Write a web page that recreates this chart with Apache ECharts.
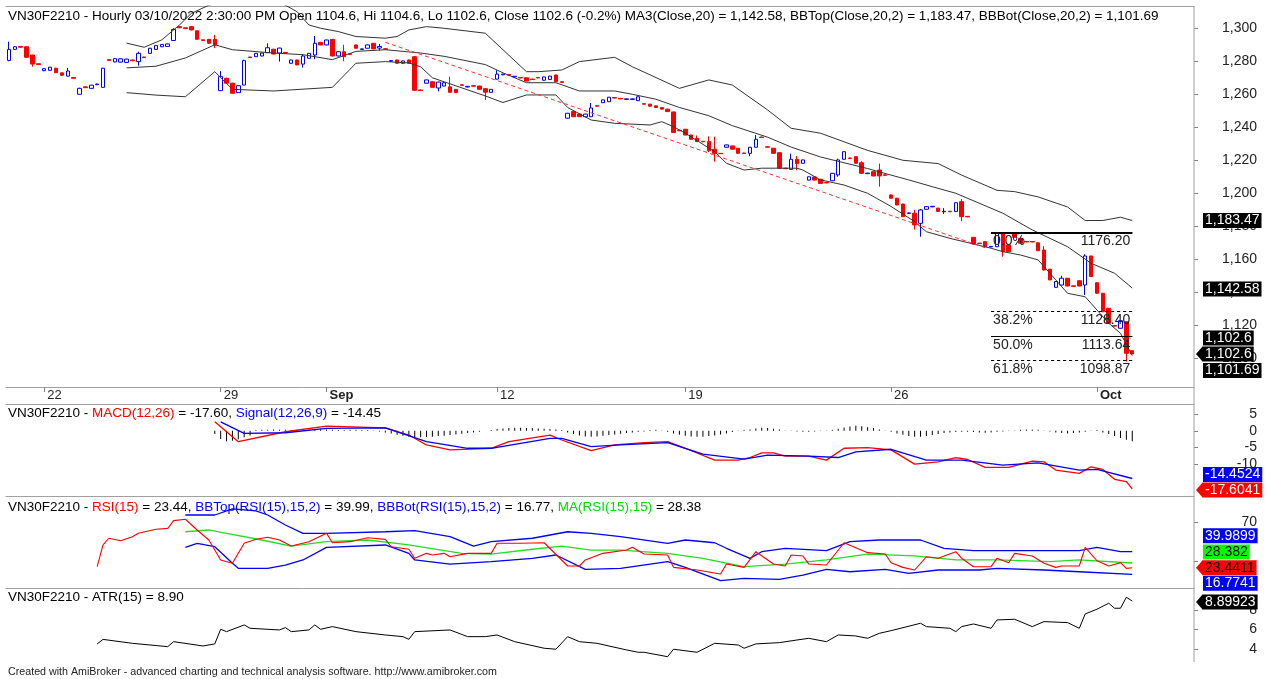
<!DOCTYPE html>
<html>
<head>
<meta charset="utf-8">
<title>VN30F2210 Hourly</title>
<script src="https://cdn.jsdelivr.net/npm/echarts@6/dist/echarts.min.js"></script>
<style>
  html, body { margin: 0; padding: 0; background: #fff; }
  #chart { width: 1270px; height: 679px; }
</style>
</head>
<body>
<div id="chart"></div>
<script>
// hourly bars, index 0 = first bar on the left, 191 = 03/10/2022 2:30 PM
var barCount = 202; // includes the empty space on the right
var dayStarts = [6, 36, 54, 83, 115, 150, 185];
var dayLabels = ['22', '29', 'Sep', '12', '19', '26', 'Oct'];

var opens = [
  1280.5,1287.2,1289,1288.8,1283.8,1278.5,1274.3,1274.5,1275.8,1273,
  1271,1270.2,1260,1264.5,1263.6,1265.8,1264.2,1281,1279.6,1279.5,
  1279.3,1280.8,1279.8,1282.6,1284.8,1287.2,1288.8,1289,1292.6,1301,
  1300.3,1301,1298.5,1293,1293.3,1293.3,1262.2,1269.7,1266.7,1261,
  1265.6,1282.6,1282.8,1283.2,1285.2,1287.3,1285,1285.4,1278.8,1280.8,
  1278.3,1281.8,1283.8,1291.5,1289.9,1293.3,1283.2,1285.8,1284.5,1289.9,
  1287.2,1287.9,1290.9,1288,1287.6,1280,1280.8,1278.8,1280.8,1282.8,
  1262.6,1266.7,1267.6,1263.8,1265,1264.5,1263,1265.8,1264.4,1265.2,
  1265,1263.4,1261.2,1269.2,1271.8,1271.9,1270.5,1270.2,1270,1269.2,
  1270.2,1268.5,1269,1271.7,1267.6,1245.5,1249.5,1248,1246.4,1246.4,
  1253.1,1254.9,1255.5,1258,1257.5,1256.9,1256.9,1256.1,1254.3,1254,
  1253,1252,1251,1249.3,1238.2,1238.8,1235.3,1233.3,1231.5,1231.3,
  1226.7,1224.2,1227.9,1228.7,1227.3,1224.4,1224.2,1227.9,1234.1,1228.2,
  1227.3,1224.6,1215.2,1214.5,1220.6,1218.2,1208,1209.9,1208.5,1206.6,
  1207.6,1211.1,1220.6,1221.4,1222.2,1218.5,1211.9,1213.1,1214.1,1211.2,
  1199,1197,1193.5,1187.8,1187.9,1181.8,1190.3,1191.8,1191,1188.8,
  1189.1,1189,1194.9,1186,1173.3,1169.8,1170.7,1167.5,1167.6,1175.8,
  1168.7,1175.8,1172.7,1170.8,1170.8,1170,1165.6,1154,1143,1144.4,
  1148.5,1143.9,1147,1144.4,1162,1145.8,1139.4,1130.3,1119.8,1118.2,
  1122.2,1104.6
];
var closes = [
  1287.2,1288.8,1288.5,1282.4,1278.3,1278,1275.5,1276.4,1273.1,1271.5,
  1274.1,1269.7,1263.6,1264,1265.5,1266.2,1275.8,1280.5,1281.6,1281.5,
  1281.3,1280.3,1284.8,1282.2,1287.9,1289.5,1290.2,1290.5,1299.3,1300.3,
  1299.8,1299,1293.3,1292.6,1290.9,1289.9,1270.7,1266.7,1260.6,1265.2,
  1280.4,1282.2,1284.8,1285,1288.2,1284.4,1288,1285,1280.8,1277.8,
  1283.2,1284.8,1290.9,1289.9,1292.9,1283.2,1285.8,1282.8,1284.2,1287.9,
  1287.5,1289.9,1287.5,1289,1287.3,1280.4,1278.8,1280.2,1278.8,1262.4,
  1262.3,1268.7,1264.2,1267.4,1267,1261.2,1261,1265.4,1264.8,1264.9,
  1263,1261.3,1263,1272.2,1272.2,1271.6,1270.9,1269.9,1268,1268.9,
  1269.9,1270.5,1271,1267.6,1267.2,1248.5,1246.4,1246.4,1248,1251.7,
  1252.8,1256.6,1258.2,1257.7,1257.2,1257.2,1257.2,1258.5,1254,1252.8,
  1252,1251,1249.5,1236.8,1237.9,1235.3,1232.7,1231.3,1231.2,1225.8,
  1224.2,1224,1229.3,1226.7,1224.2,1224.1,1227.9,1232.7,1233.8,1227.9,
  1224.2,1215.2,1214.9,1220.6,1218,1220.2,1210,1208,1206,1206.3,
  1212.1,1220.2,1225.2,1221.1,1218.2,1212.1,1212.2,1210.5,1210.5,1210.9,
  1197,1192.9,1185.8,1188.1,1180.8,1189.9,1191.9,1192.1,1189,1189.1,
  1188.8,1194.3,1185.8,1185.7,1169.3,1169.5,1167.6,1167.8,1176.1,1164.6,
  1164.6,1173.3,1169.7,1170.5,1170.5,1165.2,1153.5,1147.5,1146.5,1148.5,
  1143.8,1143.6,1143.8,1162,1149.5,1139.4,1128.2,1121.2,1119.5,1122.8,
  1103,1102.6
];
var lows = [
  1280,1287,1288.3,1282,1276.7,1277.8,1274,1274.3,1272.8,1271.2,
  1270.8,1269.5,1259.8,1263.8,1263.4,1265.6,1264,1280.3,1279.4,1279.3,
  1279,1280.1,1277.3,1282,1284.6,1287,1288.6,1288.8,1292.4,1300,
  1299.6,1298.8,1293,1292.4,1290.7,1288,1262,1266.5,1260.4,1260.8,
  1265.4,1282,1282.6,1283,1285,1284.2,1279.8,1284.8,1278.6,1277.6,
  1276.2,1281.6,1281.3,1289.7,1289.7,1283,1283,1280,1284,1287.7,
  1287,1287.7,1287.3,1286.5,1287,1279.8,1278.6,1278.6,1278.6,1262,
  1262.1,1266.5,1264,1261.8,1264.8,1261,1260.8,1265.2,1264.2,1264.7,
  1262.8,1256.5,1261,1269,1271.6,1271.4,1270.3,1269.7,1267.8,1268.7,
  1269.7,1268.3,1268.8,1267.4,1267,1245.3,1246.2,1246.2,1246.2,1246.2,
  1252.6,1254.7,1255.3,1257.5,1257,1256.7,1256.7,1255.9,1253.8,1252.6,
  1251.8,1250.8,1249.3,1236.6,1237.7,1235.1,1232.5,1231.1,1231,1225,
  1219.2,1223.8,1227.7,1226.5,1224,1223.9,1222.5,1227.7,1233.6,1227.7,
  1224,1215,1214.7,1214.3,1214,1218,1207.8,1207.8,1205.8,1206.1,
  1207.4,1210,1220.4,1220.9,1218,1211.9,1211.7,1210.3,1204,1210.7,
  1196.8,1192.7,1185.6,1187.6,1178,1173.7,1190.1,1191.6,1188.8,1187.5,
  1188.6,1188.8,1183,1185.5,1169.1,1169.3,1167.4,1167.3,1167.4,1161.6,
  1164.4,1173.1,1169.5,1170.3,1170.3,1165,1153.3,1147.3,1142.8,1144.2,
  1143.6,1143.4,1143.6,1138.3,1149.3,1139.2,1128,1121,1119.3,1118,
  1098,1102.6
];
var highs = [
  1291.9,1289.2,1289.2,1289,1284,1278.7,1275.8,1276.6,1276,1273.2,
  1276,1270.4,1264,1264.7,1265.7,1266.4,1276,1281.2,1281.8,1281.7,
  1281.5,1281,1285.8,1282.8,1288.1,1289.7,1290.4,1290.7,1300,1301.2,
  1300.5,1301.2,1298.7,1293.2,1293.5,1296,1274,1270,1267,1265.4,
  1281,1282.8,1285,1285.2,1290.9,1287.5,1288.2,1285.6,1281,1281,
  1284,1285,1295.3,1291.7,1293.1,1293.5,1286,1290,1284.7,1290.1,
  1287.7,1290.1,1291.1,1290.5,1287.8,1280.6,1281,1280.4,1281,1283,
  1262.8,1268.9,1267.8,1267.6,1267.2,1270.7,1263.2,1266,1265,1265.4,
  1265.2,1263.6,1263.2,1274.5,1272.4,1272.1,1271.1,1270.4,1270.2,1269.4,
  1270.4,1270.7,1271.2,1271.9,1267.8,1248.7,1249.7,1248.2,1248.2,1254.7,
  1253.3,1256.8,1258.4,1258.2,1257.7,1257.4,1257.4,1258.7,1254.5,1254.2,
  1253.2,1252.2,1251.2,1249.5,1238.4,1239,1235.5,1235,1231.7,1234.5,
  1234.3,1224.4,1229.5,1228.9,1227.5,1224.6,1228.1,1235.3,1234.3,1228.4,
  1227.5,1224.8,1215.4,1224,1222.5,1220.4,1210.2,1210.1,1208.7,1206.8,
  1212.3,1221,1225.4,1221.6,1222.4,1219.5,1212.4,1213.3,1218,1211.4,
  1199.2,1197.2,1193.7,1188.3,1190,1190.5,1192.1,1192.3,1191.2,1191,
  1189.3,1194.5,1196.5,1186.2,1173.5,1170,1170.9,1168,1176.3,1176,
  1168.9,1176,1172.9,1171,1171,1170.2,1168,1154.2,1146.7,1150,
  1148.7,1144.1,1147.2,1163,1162.2,1146,1139.6,1130.5,1120,1123,
  1122.4,1104.6
];

// Bollinger bands as [bar, value]
var bbTop = [[20,1291],[23,1288.5],[26,1293],[29,1302],[31,1309],[34,1314],[40,1318],[46,1316],[49,1310],
  [51,1302],[53,1300],[56,1298],[59,1295],[64,1294],[66,1295],[68,1299],[71,1301],[74,1300],[81,1297],[84,1287],
  [88,1273.7],[90,1273.7],[94,1274.7],[97,1279.8],[103,1282.4],[106,1276.7],[114,1263.6],[119,1268.7],
  [123,1265.6],[129,1250.5],[133,1239.4],[138,1236.4],[146,1226],[152,1220],[158,1218],[162,1211],
  [168,1201.8],[171,1201],[175,1197.8],[180,1191.7],[183,1183.5],[186,1183.5],[189,1185.5],[191,1183.47]];
var bbMid = [[20,1276],[25,1277],[30,1282],[35,1290],[38,1287],[45,1285],[50,1284],[55,1281],[59,1286],
  [64,1287],[70,1285],[74,1283],[81,1278],[84,1273],[88,1267],[93,1267],[97,1262],[103,1262],[106,1260],
  [110,1257],[114,1252],[119,1247],[123,1241],[129,1234],[133,1228],[138,1222],[146,1215],[150,1211],
  [153,1208.1],[157,1204],[161,1200],[169,1187.9],[174,1177.8],[180,1167.6],[184,1157.6],[188,1151.5],[191,1142.58]];
var bbBot = [[20,1261],[25,1259.5],[30,1258.5],[35,1273.7],[38,1263],[45,1262],[55,1264.2],[59,1278.8],
  [64,1279.8],[68,1279],[70,1276.7],[72,1270],[81,1259],[84,1255],[88,1259.6],[93,1259.6],[95,1252],
  [99,1244.4],[103,1242.4],[109,1241.4],[111,1243.4],[113,1240.4],[115,1236.4],[120,1225.2],[122,1218.2],
  [125,1214.1],[128,1215.2],[134,1215.2],[135,1214.1],[138,1208.1],[142,1205],[146,1200],[150,1192],
  [154,1182.8],[156,1176.7],[160,1172.7],[167,1166.7],[169,1164.6],[172,1162.6],[175,1159.6],[178,1147.5],
  [180,1139.4],[183,1137.3],[184,1133.3],[187,1121.2],[189,1115.2],[191,1101.69]];

// trend line and fibonacci retracement
var trendFrom = [64, 1291.5], trendTo = [166, 1167];
var fibStart = 167, fibEnd = 191;
var fibNames = ['0.0%', '38.2%', '50.0%', '61.8%'];
var fibValues = [1176.20, 1128.40, 1113.64, 1098.87];

// MACD pane
var macdLine = [[35,2.7],[39,-3.3],[47,-0.3],[54,1.4],[64,0.9],[68,-1.3],[71,-4.3],[75,-5.8],[82,-5.3],
  [85,-3.3],[92,-1.3],[94,-2.8],[99,-6],[103,-4.3],[108,-3.6],[112,-3.3],[115,-5.3],[120,-8.9],[124,-8.9],
  [126,-8.1],[128,-6.7],[130,-6.7],[132,-7.7],[136,-7.7],[139,-8.9],[142,-5.3],[146,-5.1],[150,-5.8],
  [154,-10.1],[158,-9.4],[161,-8.1],[163,-8.7],[166,-11.1],[170,-11.1],[174,-9.2],[176,-9.4],[178,-11.9],
  [182,-12.9],[184,-10.9],[186,-11.7],[188,-14.7],[190,-15.4],[191,-17.6]];
var signalLine = [[36,2.7],[40,-0.8],[47,-0.6],[54,0.7],[64,0.9],[71,-3.3],[78,-5.3],[82,-5.3],[92,-2.3],
  [94,-2.3],[99,-4.8],[104,-4.3],[112,-3.6],[118,-7.1],[125,-8.6],[129,-7.4],[136,-7.7],[141,-8.1],
  [144,-6.4],[150,-5.6],[156,-8.9],[162,-8.9],[169,-10.4],[175,-9.7],[182,-11.9],[185,-11.7],[191,-14.45]];
var histStart = 35;
var macdHist = [
  -1.0,-2.5,-3.2,-3.0,-2.6,-2.0,-1.4,
  0.2,0.3,0.3,0.4,0.3,0.3,0.2,0.3,0.4,0.4,0.5,0.5,0.4,0.3,0.2,0.2,0.3,0.3,0.2,0.2,0.1,
  -0.2,-0.5,-0.8,
  -1.2,-1.5,-1.8,-2.0,-2.0,-1.9,-1.8,-1.6,-1.5,-1.3,-1.1,-0.9,-0.7,-0.5,-0.3,
  0,0.2,
  0.5,0.7,0.8,0.9,0.9,0.8,0.8,0.7,0.6,0.5,0.4,0.2,
  -0.5,-1.0,-1.4,-1.7,-1.8,-1.7,-1.5,-1.3,-1.1,-0.9,-0.7,-0.5,-0.3,
  -0.2,0.2,0.3,0.1,-0.3,
  -0.8,-1.2,-1.5,-1.7,-1.8,-1.8,-1.6,-1.4,-1.1,-0.8,
  -0.4,-0.1,0.2,0.4,
  0.7,0.9,0.8,0.6,0.4,
  0.1,-0.1,-0.2,-0.3,-0.3,-0.2,-0.1,0.1,0.3,0.6,
  1.0,1.3,1.5,1.4,1.1,0.8,
  0.4,0.1,-0.3,
  -0.8,-1.2,-1.6,-1.8,-1.8,-1.6,-1.3,-1.0,
  -0.7,-0.5,-0.4,-0.3,-0.3,-0.4,-0.5,-0.6,-0.5,-0.3,-0.2,-0.1,0.1,
  0.3,0.4,0.4,0.3,0.1,
  -0.2,-0.5,-0.7,-0.8,-0.7,-0.5,-0.3,0.1,0.2,
  -0.5,-1.0,-1.6,-2.2,-2.7,-3.15
];

// RSI pane
var rsiLine = [[15,24.6],[16,46.9],[17,53.8],[19,51.3],[21,55.4],[22,58.9],[25,63],[27,64],[28,71.9],
  [30,73.3],[32,62.3],[34,52],[36,31.5],[38,28.1],[40,48.6],[42,52.7],[44,54.8],[46,52],[48,45.8],[51,50.3],
  [54,58.9],[55,49.2],[58,50.3],[61,54.4],[64,52.7],[65,45.1],[68,42.5],[69,33.2],[71,38.3],[72,36.6],
  [74,38.3],[75,34.8],[78,38.3],[82,38.3],[83,48.6],[87,48.6],[91,49.2],[95,25.3],[97,25.3],[98,31.5],
  [101,38.3],[105,41.7],[106,44.5],[108,37.6],[112,36.6],[113,23.9],[117,21.2],[121,17.1],[122,27.3],
  [125,23.9],[127,40],[130,27.3],[132,25.3],[133,36.6],[135,35.6],[136,27.3],[139,26.3],[142,49.2],
  [146,39],[149,37.6],[150,28.7],[152,23.9],[154,21.2],[156,34.8],[158,33.2],[161,40],[162,33.2],
  [164,24.6],[167,24.6],[168,33.2],[170,28.7],[171,38.3],[174,35.6],[176,28.1],[178,23.9],[179,25.3],
  [182,25.3],[183,44.5],[185,30.7],[187,25.3],[189,28.7],[190,22.9],[191,23.44]];
var rsiTop = [[30,77.7],[35,77.7],[38,84],[42,82],[44,77.7],[47,67.4],[50,58.9],[54,58.9],[64,60.5],
  [69,61.6],[75,55.4],[79,45.8],[82,50.3],[89,53.8],[95,60.5],[99,58.9],[104,55.4],[112,48.6],[115,52],
  [120,49.2],[122,43.5],[126,33.2],[128,40],[132,43.5],[139,41],[143,50.3],[148,52],[155,52],[159,43.5],
  [164,41],[176,41],[182,41],[185,44.5],[189,40],[191,39.99]];
var rsiBot = [[30,44.5],[32,48.6],[35,45.1],[38,28.1],[39,22.9],[44,22.9],[47,26.3],[50,31.5],[54,44.5],
  [64,46.9],[68,38.3],[69,31.5],[75,27.3],[82,29.7],[89,33.2],[93,36.6],[98,21.9],[104,22.9],[112,29.7],
  [115,23.9],[121,10.2],[125,12.6],[131,11.6],[135,16],[139,21.9],[143,19.4],[149,21.9],[153,17.8],
  [158,21.2],[165,21.2],[168,22.9],[176,21.2],[182,19.4],[191,16.77]];
var rsiMa = [[30,60.5],[34,62.3],[37,58.9],[43,52],[48,45.8],[54,50.3],[61,52],[68,46.9],[77,38.3],
  [82,37.6],[89,42.5],[94,45.8],[99,41.7],[104,41.7],[112,38.3],[118,33.2],[125,24.6],[132,27.3],
  [139,31.5],[146,37.6],[154,35.6],[161,31.5],[168,31.5],[177,29.7],[182,31.5],[191,28.38]];

// ATR pane
var atrLine = [[15,4.54],[16,5.0],[21,4.6],[27,4.26],[28,4.77],[33,4.33],[35,4.54],[36,6.03],[37,5.79],
  [40,6.47],[41,6.13],[46,5.96],[47,6.2],[48,5.79],[51,5.96],[52,6.47],[53,6.03],[55,6.3],[59,5.79],
  [64,5.45],[67,5.28],[68,5.01],[69,5.79],[75,5.96],[78,5.28],[81,5.28],[83,5.45],[86,4.77],[91,4.1],
  [93,4.0],[95,5.28],[97,4.77],[100,4.6],[105,3.93],[107,3.69],[108,3.69],[112,3.24],[113,4.0],[117,3.69],
  [120,4.6],[124,4.43],[125,4.1],[127,4.54],[131,4.67],[134,4.94],[136,5.11],[139,4.77],[141,5.45],
  [144,5.35],[146,5.11],[148,5.62],[150,5.89],[155,6.64],[156,6.3],[160,6.13],[161,5.79],[162,6.3],
  [164,6.57],[167,6.13],[168,6.98],[171,7.05],[174,6.3],[176,6.81],[180,6.71],[182,6.13],[183,7.59],
  [185,8.07],[187,8.68],[188,8.17],[189,8.17],[190,9.29],[191,8.9]];

// tick values of the right hand scales
var priceTicks = [1100, 1120, 1140, 1160, 1180, 1200, 1220, 1240, 1260, 1280, 1300];
var macdTicks = [-10, -5, 0, 5];
var rsiTicks = [30, 70];
var rsiLabels = [70];
var atrTicks = [4, 6, 8];

// last values shown in the coloured boxes on the scale
var valueTags = [
  { axis: 0, value: 1183.47, text: '1,183.47', bg: '#000', fg: '#fff', shift: 0 },
  { axis: 0, value: 1142.58, text: '1,142.58', bg: '#000', fg: '#fff', shift: 1 },
  { axis: 0, value: 1102.6, text: '1,102.6', bg: '#000', fg: '#fff', shift: -16 },
  { axis: 0, value: 1102.6, text: '1,102.6', bg: '#000', fg: '#fff', shift: 0, arrow: true },
  { axis: 0, value: 1101.69, text: '1,101.69', bg: '#000', fg: '#fff', shift: 15 },
  { axis: 1, value: -14.4524, text: '-14.4524', bg: '#0000ff', fg: '#fff', shift: -4 },
  { axis: 1, value: -17.6041, text: '-17.6041', bg: '#ff0000', fg: '#fff', shift: 1, arrow: true },
  { axis: 2, value: 39.9899, text: '39.9899', bg: '#0000ff', fg: '#fff', shift: -16 },
  { axis: 2, value: 28.382, text: '28.382', bg: '#00ff00', fg: '#000', shift: -11 },
  { axis: 2, value: 23.4411, text: '23.4411', bg: '#ff0000', fg: '#000', shift: 0, arrow: true },
  { axis: 2, value: 16.7741, text: '16.7741', bg: '#0000ff', fg: '#fff', shift: 9 },
  { axis: 3, value: 8.89923, text: '8.89923', bg: '#000', fg: '#fff', shift: 1, arrow: true }
];

var FONT = '"Liberation Sans", Arial, sans-serif';
var TITLE_SIZE = 13.5;
var GRID_LEFT = 6, GRID_RIGHT = 76;
var panes = [
  { top: 6, height: 381, min: 1082.6, max: 1313.5 },
  { top: 404, height: 92.5, min: -19.9, max: 8.1 },
  { top: 496.5, height: 91.5, min: 2.7, max: 96.7 },
  { top: 588, height: 74, min: 2.7, max: 10.23 }
];
var frameColor = '#a0a0a0';

var chart = echarts.init(document.getElementById('chart'));

var cats = [];
for (var i = 0; i < barCount; i++) cats.push('b' + i);

function dayLabel(idx) {
  var k = dayStarts.indexOf(idx);
  if (k < 0) return '';
  var t = dayLabels[k];
  return isNaN(+t) ? '{m|' + t + '}' : t;
}
function isDayStart(idx) { return dayStarts.indexOf(idx) >= 0; }

function xAxisFor(gridIndex, extra) {
  return Object.assign({
    type: 'category', gridIndex: gridIndex, data: cats, boundaryGap: true,
    position: 'top',
    axisLine: { show: true, onZero: false, lineStyle: { color: frameColor, width: 1 } },
    axisTick: { show: false }, axisLabel: { show: false }, splitLine: { show: false }
  }, extra || {});
}

function yAxisFor(gridIndex, ticks, labels, fmt) {
  var p = panes[gridIndex];
  return {
    type: 'value', gridIndex: gridIndex, position: 'right',
    min: p.min, max: p.max,
    axisLine: { show: false },
    axisTick: { show: true, length: 4, customValues: ticks, lineStyle: { color: '#808080' } },
    axisLabel: {
      customValues: labels, align: 'right', margin: 63,
      color: '#222', fontSize: 14, fontFamily: FONT,
      formatter: fmt || function (v) { return String(v); }
    },
    splitLine: { show: false }
  };
}

var candles = opens.map(function (o, k) { return [o, closes[k], lows[k], highs[k]]; });

function lineSeries(name, data, xi, color, width) {
  return {
    name: name, type: 'line', xAxisIndex: xi, yAxisIndex: xi, data: data,
    showSymbol: false, symbol: 'none', animation: false, silent: true, clip: true,
    lineStyle: { color: color, width: width || 1 }
  };
}

var fibLines = [];
fibValues.forEach(function (v, k) {
  var style = k === 0 ? { color: '#000', width: 2, type: 'solid' }
            : k === 2 ? { color: '#000', width: 1, type: 'solid' }
            : { color: '#000', width: 1, type: [3, 3] };
  var lbl = { show: true, color: '#222', fontSize: 14, fontFamily: FONT, distance: 2 };
  fibLines.push([
    { coord: [fibStart, v], lineStyle: style,
      label: Object.assign({ position: 'insideStartBottom', formatter: fibNames[k] }, lbl) },
    { coord: [fibEnd, v] }
  ]);
  fibLines.push([
    { coord: [fibStart, v], lineStyle: style,
      label: Object.assign({ position: 'insideEndBottom', formatter: v.toFixed(2) }, lbl) },
    { coord: [fibEnd, v] }
  ]);
});
fibLines.push([
  { coord: trendFrom, lineStyle: { color: '#ff3030', width: 1, type: [4, 3] }, label: { show: false } },
  { coord: trendTo }
]);

function richTitle(top, text) {
  var part = function (c) { return { color: c, fontSize: TITLE_SIZE, fontFamily: FONT }; };
  return {
    left: 8, top: top, padding: 0, text: text,
    textStyle: {
      fontFamily: FONT, fontSize: TITLE_SIZE, fontWeight: 'normal', color: '#000', lineHeight: 16,
      rich: { k: part('#000'), r: part('#ff0000'), b: part('#0000ff'), g: part('#00dd00') }
    }
  };
}

var rightX = 1270 - GRID_RIGHT;

var option = {
  animation: false,
  backgroundColor: '#ffffff',
  title: [
    richTitle(8, '{k|VN30F2210 - Hourly 03/10/2022 2:30:00 PM Open 1104.6, Hi 1104.6, Lo 1102.6, Close 1102.6 (-0.2%) MA3(Close,20) = 1,142.58, BBTop(Close,20,2) = 1,183.47, BBBot(Close,20,2) = 1,101.69}'),
    richTitle(405, '{k|VN30F2210 - }{r|MACD(12,26)}{k| = -17.60, }{b|Signal(12,26,9)}{k| = -14.45}'),
    richTitle(499, '{k|VN30F2210 - }{r|RSI(15)}{k| = 23.44, }{b|BBTop(RSI(15),15,2)}{k| = 39.99, }{b|BBBot(RSI(15),15,2)}{k| = 16.77, }{g|MA(RSI(15),15)}{k| = 28.38}'),
    richTitle(589, '{k|VN30F2210 - ATR(15) = 8.90}')
  ],
  grid: panes.map(function (p) {
    return { left: GRID_LEFT, right: GRID_RIGHT, top: p.top, height: p.height };
  }),
  xAxis: [
    xAxisFor(0, {
      position: 'bottom',
      axisTick: { show: true, alignWithLabel: true, length: 5, interval: function (idx) { return isDayStart(idx); },
        lineStyle: { color: '#808080' } },
      axisLabel: {
        show: true, interval: function (idx) { return isDayStart(idx); },
        formatter: function (v, idx) { return dayLabel(idx); },
        align: 'left', margin: 2, padding: [0, 0, 0, 3],
        color: '#222', fontSize: 13, fontFamily: FONT,
        rich: { m: { fontWeight: 'bold', fontSize: 13, fontFamily: FONT, color: '#222' } }
      }
    }),
    xAxisFor(1),
    xAxisFor(2),
    xAxisFor(3),
    xAxisFor(0)
  ],
  yAxis: [
    yAxisFor(0, priceTicks, priceTicks, function (v) { return v.toLocaleString('en-US'); }),
    yAxisFor(1, macdTicks, macdTicks),
    yAxisFor(2, rsiTicks, rsiLabels),
    yAxisFor(3, atrTicks, atrTicks)
  ],
  series: [
    lineSeries('BBTop', bbTop, 0, '#333', 1),
    lineSeries('MA', bbMid, 0, '#333', 1),
    lineSeries('BBBot', bbBot, 0, '#333', 1),
    {
      name: 'VN30F2210', type: 'candlestick', xAxisIndex: 0, yAxisIndex: 0,
      data: candles, barWidth: 4, silent: true,
      itemStyle: {
        color: '#ffffff', color0: '#ff0000',
        borderColor: '#0000ff', borderColor0: '#ff0000', borderWidth: 1
      },
      markLine: { silent: true, symbol: ['none', 'none'], animation: false, data: fibLines }
    },
    {
      name: 'Hist', type: 'bar', xAxisIndex: 1, yAxisIndex: 1, barWidth: 1, silent: true,
      data: macdHist.map(function (v, k) { return [histStart + k, v]; }),
      itemStyle: { color: '#000' }
    },
    lineSeries('MACD', macdLine, 1, '#ff0000', 1.3),
    lineSeries('Signal', signalLine, 1, '#0000ff', 1.3),
    lineSeries('BBTopRSI', rsiTop, 2, '#0000ff', 1.3),
    lineSeries('BBBotRSI', rsiBot, 2, '#0000ff', 1.3),
    lineSeries('MARSI', rsiMa, 2, '#22dd22', 1.3),
    lineSeries('RSI', rsiLine, 2, '#ff0000', 1.1),
    lineSeries('ATR', atrLine, 3, '#000', 1)
  ],
  graphic: [
    { type: 'line', z: 50, shape: { x1: rightX, y1: 6, x2: rightX, y2: 662 },
      style: { stroke: frameColor, lineWidth: 1 } },
    { type: 'text', left: 8, top: 667, z: 50,
      style: { text: 'Created with AmiBroker - advanced charting and technical analysis software. http://www.amibroker.com',
        font: '10.7px ' + FONT, fill: '#222' } }
  ]
};

chart.setOption(option);

// coloured value boxes on the right scale, placed through the axes
var tagEls = [];
valueTags.forEach(function (t) {
  var y = chart.convertToPixel({ yAxisIndex: t.axis }, t.value) + t.shift;
  var x0 = rightX + 9;
  if (t.arrow) {
    tagEls.push({ type: 'polygon', z: 100,
      shape: { points: [[rightX + 2, y], [x0, y - 8], [x0, y + 8]] },
      style: { fill: t.bg } });
  }
  tagEls.push({ type: 'text', z: 101, x: x0, y: y,
    style: { text: t.text, fill: t.fg, font: '14px ' + FONT, align: 'left', verticalAlign: 'middle',
      backgroundColor: t.bg, padding: [1, 2, 0, 2] } });
});
chart.setOption({ graphic: option.graphic.concat(tagEls) });
</script>
</body>
</html>
